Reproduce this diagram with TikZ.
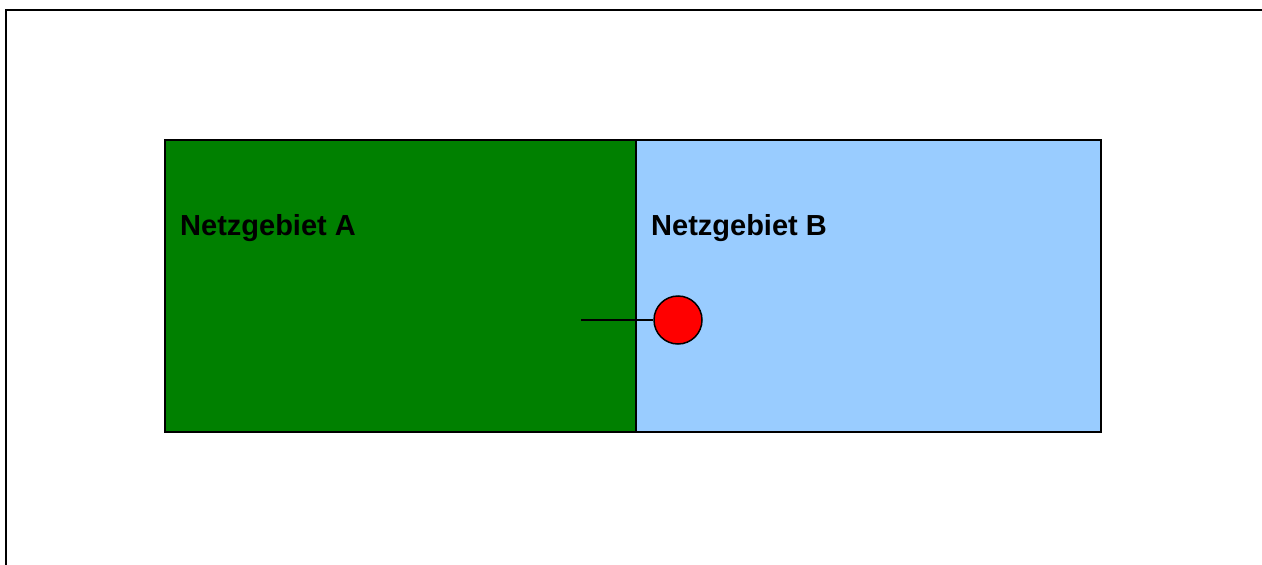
\documentclass[tikz,border=0pt]{standalone}
\usepackage{fontspec}
\setmainfont{Liberation Sans}
\definecolor{areaA}{HTML}{008000}
\definecolor{areaB}{HTML}{99CCFF}
\definecolor{pt}{HTML}{FF0000}
\tikzset{
  area/.style={draw=black, line width=1.5pt},
  lbl/.style={anchor=base west, inner sep=0pt, font=\bfseries\fontsize{29}{33}\selectfont},
}
\begin{document}
\begin{tikzpicture}[x=1pt,y=-1pt]
\useasboundingbox (0,0) rectangle (1262,565);
\fill[white] (0,0) rectangle (1262,565);
\draw[line width=2pt] (6,565) -- (6,10) -- (1262,10);
\path[area, fill=areaA] (165,140) rectangle (636,432);
\path[area, fill=areaB] (636,140) rectangle (1101,432);
\node[lbl] (la) at (180,235) {Netzgebiet A};
\node[lbl] (lb) at (651,235) {Netzgebiet B};
\coordinate (s) at (581,320);
\node[circle, draw=black, line width=1.5pt, fill=pt, minimum size=48pt, inner sep=0pt] (p) at (678,320) {};
\draw[line width=1.5pt] (s) -- (p);
\end{tikzpicture}
\end{document}
